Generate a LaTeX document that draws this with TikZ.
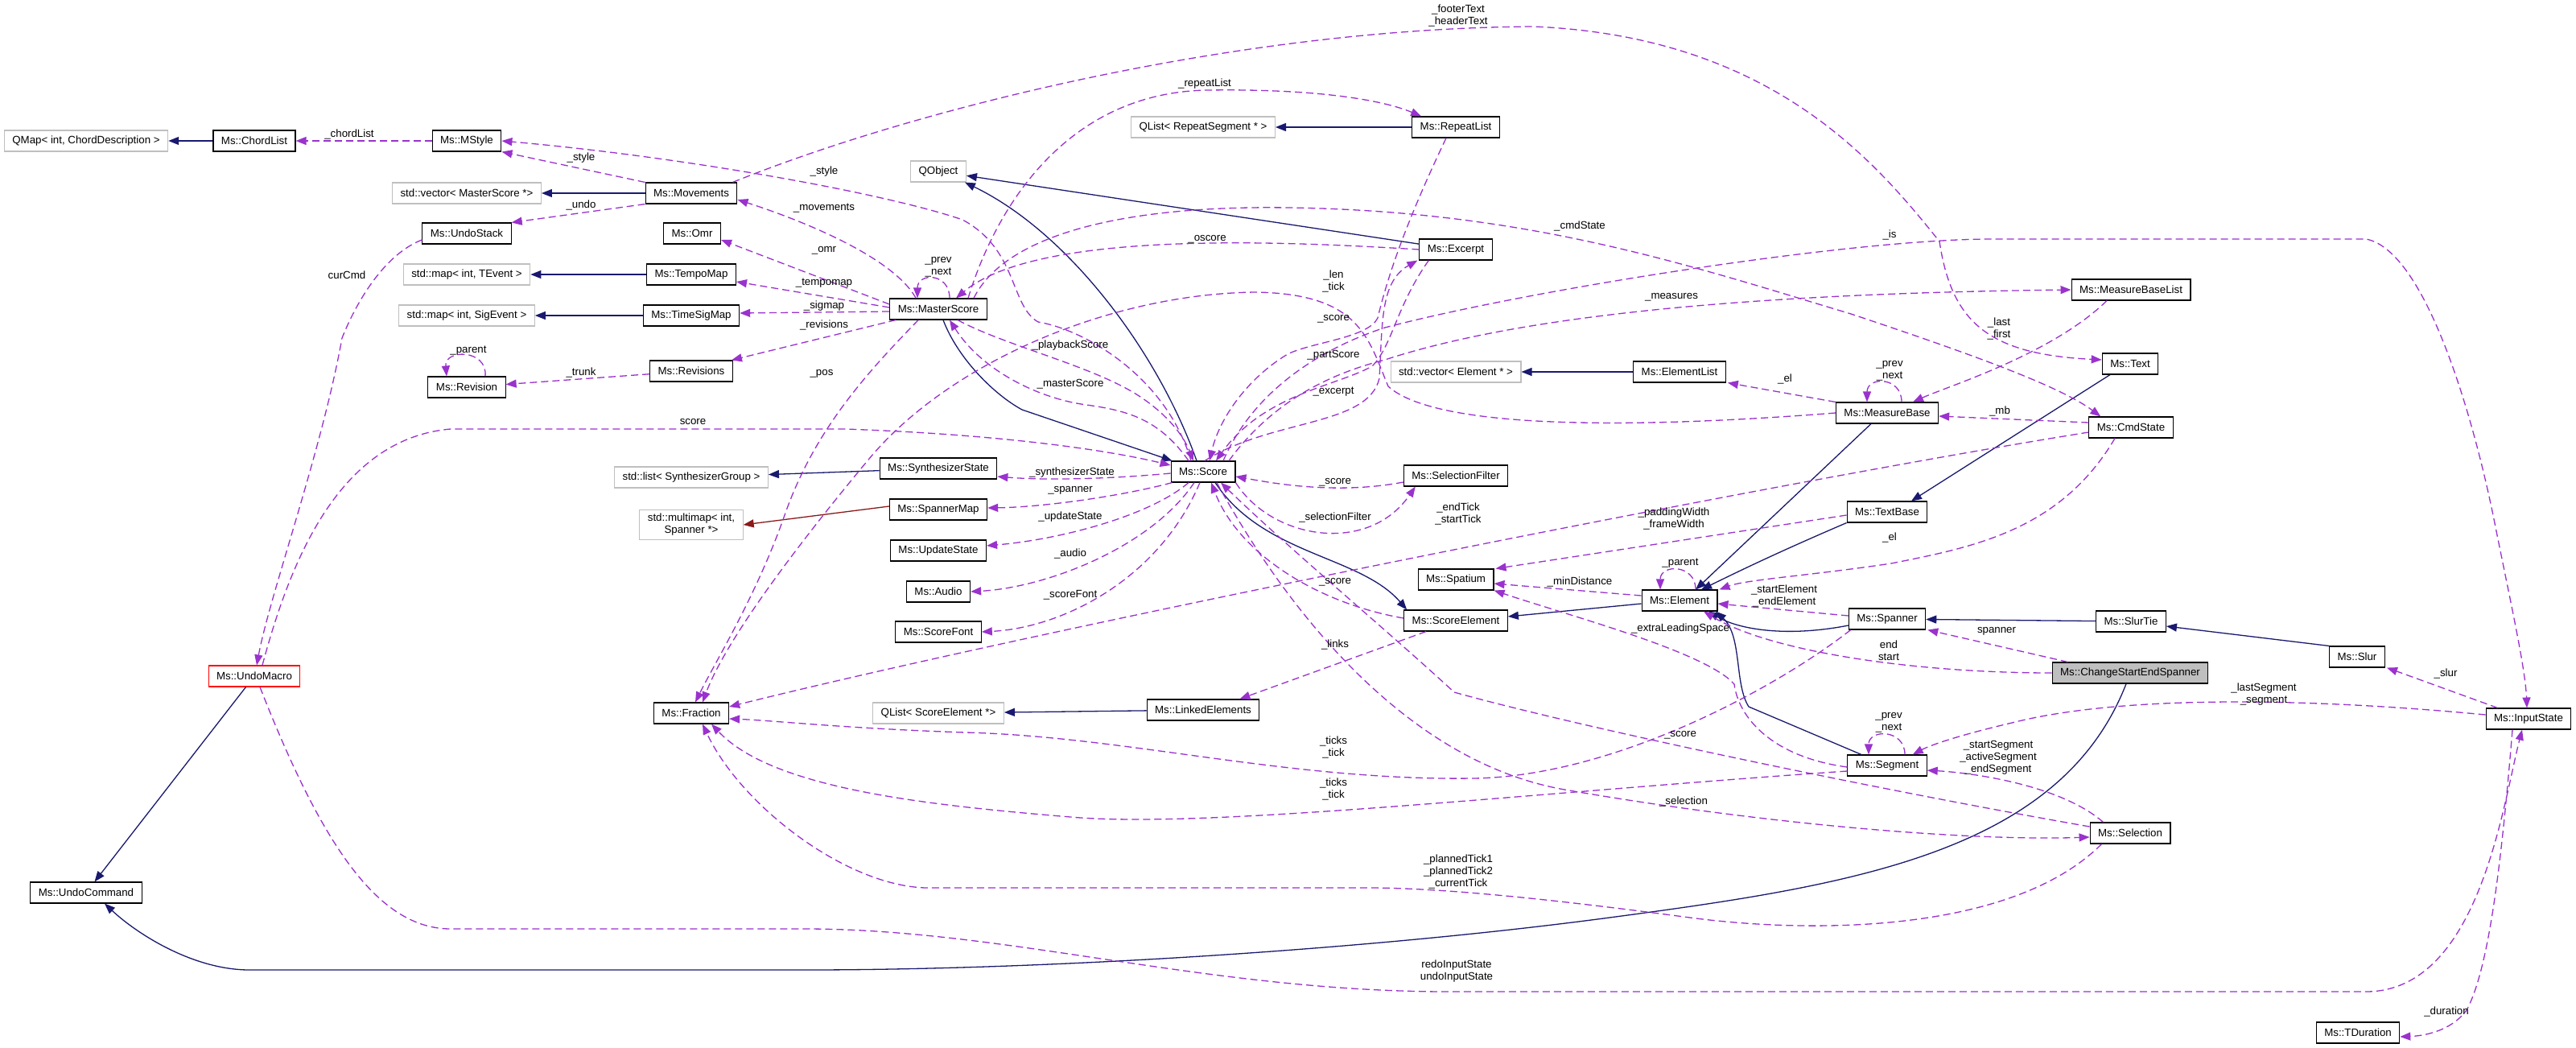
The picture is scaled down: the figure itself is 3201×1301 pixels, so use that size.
\documentclass[tikz,border=0pt]{standalone}
\usepackage{fontspec}
\setmainfont{Liberation Sans}
\usetikzlibrary{arrows.meta,calc}
\definecolor{edgeblue}{HTML}{191970}
\definecolor{edgepurple}{HTML}{9A32CD}
\definecolor{edgered}{HTML}{8B1A1A}
\definecolor{extgray}{HTML}{BFBFBF}
\newcommand{\dfont}{\fontsize{13.3}{15}\selectfont}
\tikzset{
  box/.style={draw=black, line width=1.1pt, fill=white, minimum height=26pt, inner xsep=10pt, inner ysep=0pt, font=\dfont},
  ext/.style={box, draw=extgray},
  lab/.style={font=\dfont, inner sep=0pt, align=center},
  inh/.style={draw=edgeblue, line width=1.3pt, -{Triangle[length=13pt,width=10pt]}},
  use/.style={draw=edgepurple, line width=1.3pt, dash pattern=on 9pt off 5pt, -{Triangle[length=13pt,width=10pt]}},
  tmpl/.style={draw=edgered, line width=1.3pt, -{Triangle[length=13pt,width=10pt]}}
}
\begin{document}
\begin{tikzpicture}[x=1pt,y=-1pt]
\useasboundingbox (0,0) rectangle (3201,1301);
\fill[white] (0,0) rectangle (3201,1301);
% ---------------- nodes
\node[ext] (qmap) at (107,175) {QMap< int, ChordDescription >};
\node[box] (chordlist) at (316,175) {Ms::ChordList};
\node[box] (mstyle) at (580,175) {Ms::MStyle};
\node[ext] (vecms) at (580,240) {std::vector< MasterScore *>};
\node[box] (movements) at (859,240) {Ms::Movements};
\node[box] (undostack) at (580,290) {Ms::UndoStack};
\node[box] (omr) at (860,290) {Ms::Omr};
\node[ext] (mapt) at (580,341) {std::map< int, TEvent >};
\node[box] (tempomap) at (859,341) {Ms::TempoMap};
\node[ext] (maps) at (580,392) {std::map< int, SigEvent >};
\node[box] (timesigmap) at (859,392) {Ms::TimeSigMap};
\node[box] (revisions) at (859,461) {Ms::Revisions};
\node[box] (revision) at (580,481) {Ms::Revision};
\node[box, draw=red] (undomacro) at (316,840) {Ms::UndoMacro};
\node[box] (undocommand) at (107,1109) {Ms::UndoCommand};
\node[box] (fraction) at (859,886) {Ms::Fraction};
\node[box] (masterscore) at (1166,384) {Ms::MasterScore};
\node[ext] (qobject) at (1166,213) {QObject};
\node[ext] (qlrs) at (1495,158) {QList< RepeatSegment * >};
\node[box] (repeatlist) at (1809,158) {Ms::RepeatList};
\node[box] (excerpt) at (1809,310) {Ms::Excerpt};
\node[box] (score) at (1495,586) {Ms::Score};
\node[box] (synthstate) at (1166,582) {Ms::SynthesizerState};
\node[ext] (listsg) at (859,593) {std::list< SynthesizerGroup >};
\node[box] (spannermap) at (1166,633) {Ms::SpannerMap};
\node[ext, align=center, inner ysep=5pt] (mmap) at (859,652) {std::multimap< int,\\Spanner *>};
\node[box] (updatestate) at (1166,684) {Ms::UpdateState};
\node[box] (audio) at (1166,735) {Ms::Audio};
\node[box] (scorefont) at (1166,785) {Ms::ScoreFont};
\node[box] (selfilter) at (1809,591) {Ms::SelectionFilter};
\node[box] (spatium) at (1809,720) {Ms::Spatium};
\node[box] (scoreelement) at (1809,771) {Ms::ScoreElement};
\node[box] (linkedel) at (1495,882) {Ms::LinkedElements};
\node[ext] (qlse) at (1166,886) {QList< ScoreElement *>};
\node[ext] (vecel) at (1809,462) {std::vector< Element * >};
\node[box] (elementlist) at (2087,462) {Ms::ElementList};
\node[box] (measurebaselist) at (2648,360) {Ms::MeasureBaseList};
\node[box] (text) at (2647,452) {Ms::Text};
\node[box] (measurebase) at (2345,513) {Ms::MeasureBase};
\node[box] (cmdstate) at (2648,531) {Ms::CmdState};
\node[box] (textbase) at (2345,636) {Ms::TextBase};
\node[box] (element) at (2087,746) {Ms::Element};
\node[box] (spanner) at (2345,769) {Ms::Spanner};
\node[box] (slurtie) at (2648,772) {Ms::SlurTie};
\node[box] (slur) at (2929,816) {Ms::Slur};
\node[box, fill=extgray] (cses) at (2647,836) {Ms::ChangeStartEndSpanner};
\node[box] (segment) at (2345,951) {Ms::Segment};
\node[box] (selection) at (2647,1035) {Ms::Selection};
\node[box] (inputstate) at (3142,893) {Ms::InputState};
\node[box] (tduration) at (2930,1283) {Ms::TDuration};
% ---------------- inheritance
\draw[inh] (chordlist) -- (qmap);
\draw[inh] (movements) -- (vecms);
\draw[inh] (tempomap) -- (mapt);
\draw[inh] (timesigmap) -- (maps);
\draw[inh] (repeatlist) -- (qlrs);
\draw[inh] (synthstate) -- (listsg);
\draw[tmpl] ($(spannermap.west)+(0,-4)$) -- (mmap.east);
\draw[inh] (linkedel) -- (qlse);
\draw[inh] (elementlist) -- (vecel);
\draw[inh] (slurtie) -- (spanner);
\draw[inh] (slur.north west) -- ($(slurtie.east)+(0,6)$);
\draw[inh] ($(text.south)+(-25,0)$) -- ($(textbase.north)+(30,0)$);
\draw[inh] (excerpt) -- (qobject);
\draw[inh] (undomacro) -- (undocommand);
\draw[inh] ($(element.west)+(0,4)$) -- ($(scoreelement.east)+(0,-5)$);
\draw[inh] ($(measurebase.south)+(-20,0)$) -- ($(element.north)+(20,0)$);
\draw[inh] ($(masterscore.south)+(6,0)$) .. controls (1190,445) and (1235,490) .. (1270,509) -- ($(score.north west)+(2,0)$);
\draw[inh] ($(score.north)+(-8,0)$) .. controls (1440,440) and (1330,290) .. ($(qobject.south east)+(-2,0)$);
\draw[inh] ($(score.south)+(15,0)$) .. controls (1570,690) and (1690,690) .. ($(scoreelement.north west)+(4,0)$);
\draw[inh] ($(spanner.west)+(0,8)$) .. controls (2220,792) and (2160,782) .. ($(element.south)+(36,0)$);
\draw[inh] ($(segment.north)+(-32,0)$) -- (2173,878) .. controls (2155,850) and (2165,790) .. ($(element.south)+(45,0)$);
\draw[inh] (textbase.south west) .. controls (2200,690) and (2150,715) .. ($(element.north)+(27,0)$);
\draw[inh] ($(cses.south)+(-5,0)$) .. controls (2560,1060) and (2300,1100) .. (2000,1140) .. controls (1700,1180) and (1300,1205) .. (1000,1205) -- (310,1205) .. controls (240,1205) and (170,1160) .. ($(undocommand.south)+(23,0)$);
% ---------------- usage (left part)
\draw[use] (mstyle) -- (chordlist);
\draw[use] (movements.north west) -- (mstyle.south east);
\draw[use] (movements.south west) -- (undostack.north east);
\draw[use] ($(masterscore.north west)+(33,0)$) .. controls (1110,320) and (1000,275) .. ($(movements.east)+(0,8)$);
\draw[use] ($(masterscore.west)+(0,-6)$) -- ($(omr.east)+(0,8)$);
\draw[use] ($(masterscore.west)+(0,-2)$) -- ($(tempomap.east)+(0,9)$);
\draw[use] ($(masterscore.west)+(0,3)$) -- ($(timesigmap.east)+(0,-3)$);
\draw[use] ($(masterscore.south west)+(8,0)$) -- ($(revisions.north east)+(-2,0)$);
\draw[use] (revisions) -- (revision);
\draw[use] ($(revision.north)+(23,0)$) .. controls +(3,-34) and +(-3,-34) .. ($(revision.north)+(-25,0)$);
\draw[use] ($(undostack.west)+(0,8)$) .. controls (480,315) and (445,370) .. (425,420) .. controls (400,560) and (335,740) .. ($(undomacro.north)+(3,0)$);
\draw[use] ($(undomacro.north)+(10,0)$) .. controls (360,700) and (420,545) .. (560,533) -- (1050,533) .. controls (1250,540) and (1380,560) .. ($(score.west)+(0,-8)$);
\draw[use] ($(undomacro.south)+(7,0)$) .. controls (400,1050) and (470,1154) .. (560,1154) -- (1000,1154) .. controls (1250,1154) and (1500,1232) .. (1800,1232) -- (2940,1232) .. controls (3080,1232) and (3110,1000) .. ($(inputstate.south)+(-8,0)$);
% ---------------- MasterScore
\draw[use] ($(masterscore.north)+(14,0)$) .. controls +(0,-32) and +(0,-32) .. ($(masterscore.north)+(-26,0)$);
\draw[use] (excerpt.west) .. controls (1600,300) and (1290,285) .. ($(masterscore.north)+(22,0)$);
\draw[use] ($(masterscore.north)+(37,0)$) .. controls (1240,250) and (1330,115) .. (1500,112) .. controls (1640,110) and (1720,125) .. ($(repeatlist.north west)+(12,0)$);
\draw[use] ($(masterscore.north)+(44,0)$) .. controls (1250,290) and (1400,255) .. (1600,258) .. controls (1900,262) and (2100,330) .. (2300,390) .. controls (2450,440) and (2560,480) .. ($(cmdstate.north west)+(15,0)$);
\draw[use] ($(masterscore.south west)+(36,0)$) .. controls (1070,470) and (1010,540) .. (975,640) .. controls (940,740) and (890,820) .. ($(fraction.north)+(5,0)$);
\draw[use] ($(masterscore.south)+(24,0)$) .. controls (1250,430) and (1360,455) .. (1417,493) .. controls (1450,515) and (1470,540) .. ($(score.north)+(-12,0)$);
\draw[use] ($(score.north)+(-18,0)$) .. controls (1440,520) and (1400,510) .. (1350,503) .. controls (1290,495) and (1220,460) .. ($(masterscore.south)+(14,0)$);
% ---------------- Score
\draw[use] ($(score.north)+(-15,0)$) .. controls (1450,470) and (1350,410) .. (1290,400) .. controls (1255,380) and (1265,310) .. (1196,273) .. controls (1100,240) and (850,195) .. (mstyle.east);
\draw[use] ($(score.west)+(0,2)$) .. controls (1380,595) and (1300,597) .. ($(synthstate.east)+(0,10)$);
\draw[use] ($(score.south west)+(2,0)$) .. controls (1400,615) and (1300,630) .. ($(spannermap.east)+(0,-2)$);
\draw[use] ($(score.south)+(-18,0)$) .. controls (1430,640) and (1320,670) .. ($(updatestate.east)+(0,-6)$);
\draw[use] ($(score.south)+(-11,0)$) .. controls (1430,680) and (1300,730) .. (audio.east);
\draw[use] ($(score.south)+(-4,0)$) .. controls (1440,720) and (1320,780) .. (scorefont.east);
\draw[use] ($(selfilter.west)+(0,8)$) .. controls (1660,615) and (1580,600) .. ($(score.east)+(0,6)$);
\draw[use] (score.south east) .. controls (1580,670) and (1700,690) .. ($(selfilter.south west)+(15,0)$);
\draw[use] ($(scoreelement.west)+(0,-3)$) .. controls (1640,750) and (1540,690) .. ($(score.south)+(10,0)$);
\draw[use] ($(scoreelement.south west)+(28,0)$) -- ($(linkedel.north east)+(-25,0)$);
\draw[use] ($(score.south)+(17,0)$) .. controls (1600,760) and (1750,950) .. (1950,982) .. controls (2200,1025) and (2450,1045) .. ($(selection.west)+(0,5)$);
\draw[use] ($(selection.west)+(0,-8)$) .. controls (2300,975) and (1950,900) .. (1807,860) .. controls (1720,780) and (1600,680) .. ($(score.south)+(22,0)$);
\draw[use] ($(repeatlist.south)+(-12,0)$) .. controls (1750,270) and (1725,340) .. (1712,395) .. controls (1700,420) and (1630,425) .. (1600,440) .. controls (1550,470) and (1515,520) .. ($(score.north)+(8,0)$);
\draw[use] ($(excerpt.south west)+(12,0)$) .. controls (1735,380) and (1730,430) .. (1705,455) .. controls (1660,480) and (1570,490) .. ($(score.north)+(16,0)$);
\draw[use] ($(score.north)+(2,0)$) .. controls (1580,520) and (1700,530) .. (1714,470) .. controls (1718,400) and (1715,350) .. ($(excerpt.south west)+(-2,0)$);
\draw[use] ($(score.north)+(25,0)$) .. controls (1560,480) and (1650,430) .. (1721,407) .. controls (1900,360) and (2300,297) .. (2475,297) -- (2940,297) .. controls (3010,310) and (3070,500) .. (3100,650) .. controls (3120,750) and (3138,830) .. ($(inputstate.north)+(-2,0)$);
\draw[use] ($(score.north)+(32,0)$) .. controls (1580,500) and (1650,465) .. (1721,447) .. controls (1880,395) and (2150,365) .. (measurebaselist.west);
% ---------------- right part
\draw[use] ($(movements.north east)+(-6,0)$) .. controls (1150,130) and (1550,35) .. (1905,33) .. controls (2200,45) and (2330,200) .. (2410,300) .. controls (2425,400) and (2470,440) .. ($(text.west)+(0,-5)$);
\draw[use] (measurebase.west) .. controls (2000,535) and (1780,530) .. (1725,480) .. controls (1700,420) and (1690,365) .. (1560,363) .. controls (1380,365) and (1180,450) .. (1080,570) .. controls (980,690) and (900,800) .. ($(fraction.north)+(14,0)$);
\draw[use] ($(measurebaselist.south)+(-30,0)$) .. controls (2550,440) and (2420,480) .. ($(measurebase.north)+(32,0)$);
\draw[use] ($(measurebase.north)+(18,0)$) .. controls +(0,-32) and +(0,-32) .. ($(measurebase.north)+(-25,0)$);
\draw[use] (measurebase.north west) -- ($(elementlist.south east)+(2,0)$);
\draw[use] ($(cmdstate.west)+(0,-6)$) -- ($(measurebase.east)+(0,4)$);
\draw[use] ($(cmdstate.south)+(-20,0)$) .. controls (2560,660) and (2450,680) .. (2350,700) .. controls (2250,715) and (2170,720) .. ($(element.north east)+(2,0)$);
\draw[use] ($(cmdstate.west)+(0,6)$) .. controls (2200,600) and (1300,780) .. ($(fraction.east)+(0,-8)$);
\draw[use] ($(textbase.west)+(0,4)$) -- ($(spatium.north east)+(2,0)$);
\draw[use] ($(element.west)+(0,-6)$) -- ($(spatium.east)+(0,5)$);
\draw[use] ($(element.north)+(20,0)$) .. controls +(0,-32) and +(0,-32) .. ($(element.north)+(-24,0)$);
\draw[use] ($(spanner.west)+(0,-4)$) -- ($(element.east)+(0,4)$);
\draw[use] (cses.west) .. controls (2380,836) and (2200,810) .. ($(element.south)+(30,0)$);
\draw[use] ($(cses.north west)+(20,0)$) -- ($(spanner.south east)+(2,0)$);
\draw[use] ($(spanner.south west)+(3,0)$) .. controls (2200,860) and (2000,965) .. (1830,967) .. controls (1600,970) and (1400,915) .. (1200,910) .. controls (1050,905) and (960,895) .. ($(fraction.east)+(0,7)$);
\draw[use] ($(segment.west)+(0,7)$) .. controls (1900,985) and (1500,1030) .. (1330,1015) .. controls (1150,1000) and (960,980) .. ($(fraction.south)+(25,0)$);
\draw[use] ($(segment.west)+(0,2)$) .. controls (2200,940) and (2160,890) .. (2155,850) .. controls (2120,810) and (1950,765) .. (spatium.south east);
\draw[use] ($(segment.north)+(22,0)$) .. controls +(0,-32) and +(0,-32) .. ($(segment.north)+(-23,0)$);
\draw[use] ($(selection.south west)+(15,0)$) .. controls (2500,1160) and (2250,1160) .. (2100,1140) .. controls (1950,1120) and (1800,1103) .. (1700,1103) -- (1150,1103) .. controls (1050,1100) and (920,1000) .. ($(fraction.south)+(14,0)$);
\draw[use] ($(selection.north west)+(17,0)$) .. controls (2560,975) and (2450,960) .. ($(segment.east)+(0,6)$);
\draw[use] ($(inputstate.west)+(0,-5)$) .. controls (2900,870) and (2650,860) .. (2500,898) .. controls (2440,912) and (2400,925) .. ($(segment.north east)+(-18,0)$);
\draw[use] ($(inputstate.north west)+(15,0)$) -- ($(slur.south east)+(2,0)$);
\draw[use] ($(inputstate.south)+(-20,0)$) .. controls (3110,1050) and (3095,1200) .. (3065,1255) .. controls (3045,1282) and (3010,1287) .. ($(tduration.east)+(0,5)$);
% ---------------- labels
\node[lab] (l1) at (434,167) {\_chordList};
\node[lab] (l2) at (722,196) {\_style};
\node[lab] (l3) at (1024,213) {\_style};
\node[lab] (l4) at (722,255) {\_undo};
\node[lab] (l5) at (1024,259) {\_movements};
\node[lab] (l6) at (431,342) {curCmd};
\node[lab] (l7) at (1024,311) {\_omr};
\node[lab] (l8) at (1024,352) {\_tempomap};
\node[lab] (l9) at (1024,380) {\_sigmap};
\node[lab] (l10) at (1024,404) {\_revisions};
\node[lab] (l11) at (582,436) {\_parent};
\node[lab] (l12) at (722,463) {\_trunk};
\node[lab] (l13) at (1021,464) {\_pos};
\node[lab] (l14) at (861,524) {score};
\node[lab] (l15) at (1812,20) {\_footerText\\\_headerText};
\node[lab] (l16) at (1497,104) {\_repeatList};
\node[lab] (l17) at (1963,281) {\_cmdState};
\node[lab] (l18) at (1500,297) {\_oscore};
\node[lab] (l19) at (1166,332) {\_prev\\\_next};
\node[lab] (l20) at (1657,349) {\_len\\\_tick};
\node[lab] (l21) at (2348,292) {\_is};
\node[lab] (l22) at (2077,369) {\_measures};
\node[lab] (l23) at (1657,396) {\_score};
\node[lab] (l24) at (1330,429) {\_playbackScore};
\node[lab] (l25) at (1657,441) {\_partScore};
\node[lab] (l26) at (2484,408) {\_last\\\_first};
\node[lab] (l27) at (1330,477) {\_masterScore};
\node[lab] (l28) at (1657,487) {\_excerpt};
\node[lab] (l29) at (2348,461) {\_prev\\\_next};
\node[lab] (l30) at (2218,471) {\_el};
\node[lab] (l31) at (2485,511) {\_mb};
\node[lab] (l32) at (1332,587) {\_synthesizerState};
\node[lab] (l33) at (1659,599) {\_score};
\node[lab] (l34) at (1330,609) {\_spanner};
\node[lab] (l35) at (1812,638) {\_endTick\\\_startTick};
\node[lab] (l36) at (2080,644) {\_paddingWidth\\\_frameWidth};
\node[lab] (l37) at (1330,642) {\_updateState};
\node[lab] (l38) at (1659,643) {\_selectionFilter};
\node[lab] (l39) at (2348,668) {\_el};
\node[lab] (l40) at (1330,688) {\_audio};
\node[lab] (l41) at (2088,700) {\_parent};
\node[lab] (l42) at (1659,723) {\_score};
\node[lab] (l43) at (1963,723) {\_minDistance};
\node[lab] (l44) at (2217,740) {\_startElement\\\_endElement};
\node[lab] (l45) at (1330,739) {\_scoreFont};
\node[lab] (l46) at (2088,781) {\_extraLeadingSpace};
\node[lab] (l47) at (2481,784) {spanner};
\node[lab] (l48) at (1659,801) {\_links};
\node[lab] (l49) at (2347,808) {end\\start};
\node[lab] (l50) at (3039,837) {\_slur};
\node[lab] (l51) at (2813,863) {\_lastSegment\\\_segment};
\node[lab] (l52) at (2347,898) {\_prev\\\_next};
\node[lab] (l53) at (2088,913) {\_score};
\node[lab] (l54) at (1657,928) {\_ticks\\\_tick};
\node[lab] (l55) at (2483,941) {\_startSegment\\\_activeSegment\\\_endSegment};
\node[lab] (l56) at (1657,980) {\_ticks\\\_tick};
\node[lab] (l57) at (2092,996) {\_selection};
\node[lab] (l58) at (1812,1083) {\_plannedTick1\\\_plannedTick2\\\_currentTick};
\node[lab] (l59) at (1810,1207) {redoInputState\\undoInputState};
\node[lab] (l60) at (3040,1257) {\_duration};
\end{tikzpicture}
\end{document}
